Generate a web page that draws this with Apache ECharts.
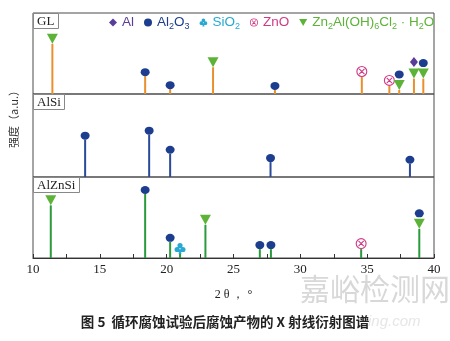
<!DOCTYPE html>
<html><head><meta charset="utf-8">
<script src="https://cdn.jsdelivr.net/npm/echarts@6/dist/echarts.min.js"></script>
<style>html,body{margin:0;padding:0;background:#fff}#c{width:450px;height:341px}</style>
</head><body><div id="c"></div>
<script>
// ---- data (2θ positions, relative intensity %, phase markers) ----
const xTicks = [10, 15, 20, 25, 30, 35, 40];
const panelNames = ['GL', 'AlSi', 'AlZnSi'];
const glPos = [11.45, 18.39, 20.26, 23.47, 28.1, 34.6, 36.66, 37.4, 38.5, 39.2];
const glInt = [62, 22, 6, 33, 5, 21, 10, 5, 19, 19];
const glPhase = [['Z'], ['A2'], ['A2'], ['Z'], ['A2'], ['ZnO'], ['ZnO'], ['Z', 'A2'], ['Z', 'Al'], ['Z', 'A2']];
const alsiPos = [13.9, 18.69, 20.26, 27.77, 38.2];
const alsiInt = [45, 51, 28, 18, 16];
const alsiPhase = [['A2'], ['A2'], ['A2'], ['A2'], ['A2']];
const alznPos = [11.33, 18.39, 20.26, 21.0, 22.9, 26.97, 27.8, 34.55, 38.9];
const alznInt = [65, 79, 20, 5, 41, 11, 11, 11, 36];
const alznPhase = [['Z'], ['A2'], ['A2'], ['S'], ['Z'], ['A2'], ['A2'], ['ZnO'], ['Z', 'A2']];
const stemColors = ['#e8902e', '#2a4a9a', '#2b9a3c'];

const ZNO_PATH = 'path://M0,10 A10,10 0 1,1 20,10 A10,10 0 1,1 0,10 Z M2,10 A8,8 0 1,0 18,10 A8,8 0 1,0 2,10 Z M4.5,5.9 L5.9,4.5 L15.5,14.1 L14.1,15.5 Z M14.1,4.5 L15.5,5.9 L5.9,15.5 L4.5,14.1 Z';
const CLUB_PATH = 'path://M5.5,5 A4.5,4.5 0 1,1 14.5,5 A4.5,4.5 0 1,1 5.5,5 Z M0.5,12 A4.5,4.5 0 1,1 9.5,12 A4.5,4.5 0 1,1 0.5,12 Z M10.5,12 A4.5,4.5 0 1,1 19.5,12 A4.5,4.5 0 1,1 10.5,12 Z M9,12 L11,12 L12.5,20 L7.5,20 Z';
const TRI_PATH = 'path://M0,0 L10,0 L5,9 Z';

const phases = {
  Al:  {name: 'Al', symbol: 'diamond', size: [8, 10], color: '#5a3d97'},
  A2:  {name: 'Al2O3', symbol: 'circle', size: [9, 8], color: '#1d3d8f'},
  S:   {name: 'SiO2', symbol: CLUB_PATH, size: [11, 11], color: '#28a9d2'},
  ZnO: {name: 'ZnO', symbol: ZNO_PATH, size: [11, 11], color: '#cf3a85'},
  Z:   {name: 'Zn2Al(OH)6Cl2·H2O', symbol: TRI_PATH, size: [11, 10], color: '#5cb338'}
};
const legendOrder = ['Al', 'A2', 'S', 'ZnO', 'Z'];
const legendRich = {
  'Al': '{n|Al}',
  'Al2O3': '{n|Al}{s|2}{n|O}{s|3}',
  'SiO2': '{n|SiO}{s|2}',
  'ZnO': '{n|ZnO}',
  'Zn2Al(OH)6Cl2·H2O': '{n|Zn}{s|2}{n|Al(OH)}{s|6}{n|Cl}{s|2}{n| · H}{s|2}{n|O}'
};

const panels = [
  {pos: glPos, int: glInt, ph: glPhase},
  {pos: alsiPos, int: alsiInt, ph: alsiPhase},
  {pos: alznPos, int: alznInt, ph: alznPhase}
];
const gridBox = [{top: 13, height: 81}, {top: 94, height: 83}, {top: 177, height: 81}];

const grids = [], xAxes = [], yAxes = [], series = [];
panels.forEach((p, i) => {
  grids.push({left: 33, right: 16, top: gridBox[i].top, height: gridBox[i].height,
    show: true, borderColor: '#4a4a4a', borderWidth: 1, backgroundColor: 'transparent'});
  const last = i === panels.length - 1;
  xAxes.push({type: 'value', gridIndex: i, min: 10, max: 40, interval: 2.5,
    axisLine: {show: last, lineStyle: {color: '#333'}},
    axisTick: {show: last, inside: true, length: 4, lineStyle: {color: '#333'}},
    axisLabel: {show: last, margin: 5, color: '#222', fontFamily: 'Liberation Serif', fontSize: 13,
      formatter: v => (xTicks.indexOf(v) >= 0 ? String(v) : '')},
    splitLine: {show: false},
    name: last ? '2 θ ， °' : '', nameLocation: 'middle', nameGap: 31,
    nameTextStyle: {fontFamily: 'Liberation Serif', fontSize: 12, color: '#222'}});
  yAxes.push({type: 'value', gridIndex: i, min: 0, max: 100, show: false, splitLine: {show: false}});
  series.push({type: 'bar', xAxisIndex: i, yAxisIndex: i, barWidth: 2, silent: true,
    itemStyle: {color: stemColors[i]},
    data: p.pos.map((x, k) => [x, p.int[k]])});
  legendOrder.forEach(key => {
    const ph = phases[key];
    const data = [];
    p.pos.forEach((x, k) => {
      const list = p.ph[k];
      let off = 0;
      list.forEach((m, j) => {
        const h = phases[m].size[1];
        if (m === key) {
          data.push({value: [x, p.int[k]], symbolOffset: [0, -(off + h / 2) - (j > 0 ? 1.5 : 0)]});
        }
        off += h;
      });
    });
    series.push({type: 'scatter', name: ph.name, xAxisIndex: i, yAxisIndex: i,
      symbol: ph.symbol, symbolSize: ph.size, itemStyle: {color: ph.color, opacity: 1},
      data: data, z: 3});
  });
});

const chart = echarts.init(document.getElementById('c'), null, {renderer: 'canvas'});
chart.setOption({
  backgroundColor: '#fff',
  animation: false,
  grid: grids, xAxis: xAxes, yAxis: yAxes, series: series,
  title: panelNames.map((n, i) => ({text: n, left: 33, top: gridBox[i].top,
    borderColor: '#888', borderWidth: 1, padding: [1, 4, 0, 4], backgroundColor: '#fff',
    textStyle: {fontFamily: 'Liberation Serif', fontSize: 13, fontWeight: 'normal', color: '#222', lineHeight: 15}})),
  legend: {left: 104, top: 9, itemWidth: 8, itemHeight: 8, itemGap: 10,
    selectedMode: false,
    data: legendOrder.map(k => ({name: phases[k].name, textStyle: {color: phases[k].color}})),
    formatter: name => legendRich[name],
    textStyle: {fontFamily: 'Liberation Sans', fontSize: 13.5,
      rich: {n: {fontFamily: 'Liberation Sans', fontSize: 13.5, lineHeight: 17},
             s: {fontFamily: 'Liberation Sans', fontSize: 9, lineHeight: 17, padding: [8, 0, 0, 0]}}}},
  graphic: [
    {type: 'text', left: 8, top: 85, rotation: Math.PI / 2,
      style: {text: '强度（a.u.）', font: '11px "Noto Sans CJK SC"', fill: '#333'}},
    {type: 'text', left: 300, top: 274,
      style: {text: '嘉峪检测网', font: '30px "Noto Sans CJK SC"', fill: '#d8d8d8'}},
    {type: 'text', left: 368, top: 314,
      style: {text: 'ing.com', font: 'italic 15px "Liberation Sans"', fill: '#e6e6e6'}},
    {type: 'text', left: 'center', top: 315,
      style: {text: '图 5  循环腐蚀试验后腐蚀产物的 X 射线衍射图谱', font: 'bold 13.5px "Noto Sans CJK SC"', fill: '#222'}}
  ]
});
</script></body></html>
